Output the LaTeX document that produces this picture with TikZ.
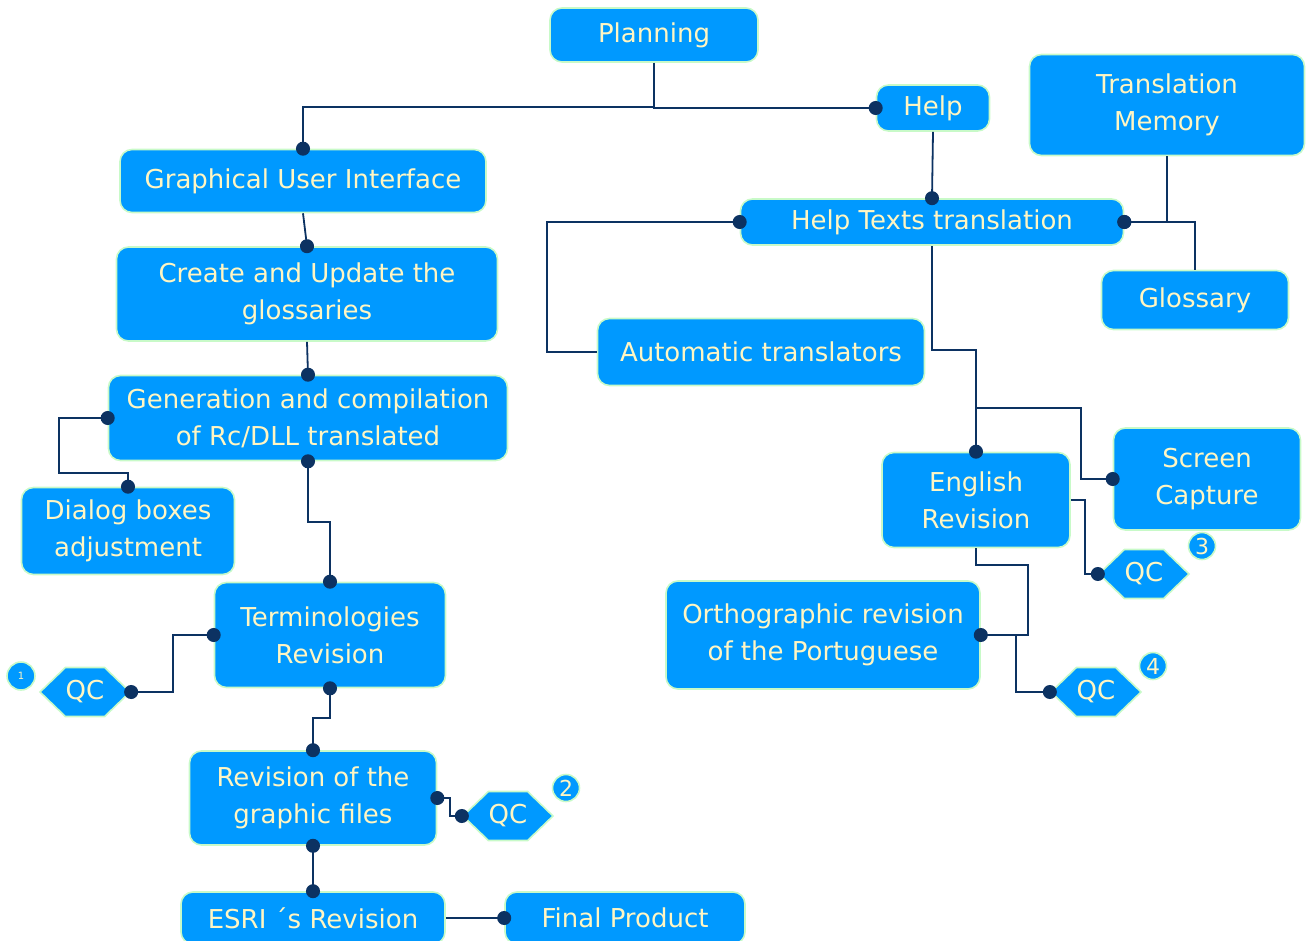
\documentclass[tikz,border=0pt]{standalone}
\usepackage{fontspec}
\setmainfont{DejaVu Sans}
\usetikzlibrary{shapes.symbols, arrows.meta, calc}
\definecolor{stepblue}{RGB}{0,153,255}
\definecolor{rimgreen}{RGB}{200,250,200}
\definecolor{labelcream}{RGB}{255,246,195}
\definecolor{linknavy}{RGB}{12,50,98}

\begin{document}
\begin{tikzpicture}[
  x=0.5pt, y=-0.5pt,
  box/.style={draw=rimgreen, fill=stepblue, line width=0.8pt, rounded corners=6pt, text=labelcream, align=center, inner sep=0pt, font=\fontsize{13}{18.5}\selectfont},
  qc/.style={shape=signal, signal to=east and west, signal pointer angle=88, draw=rimgreen, fill=stepblue, line width=0.8pt, text=labelcream, minimum width=45pt, minimum height=24.5pt, inner sep=0pt, font=\fontsize{13}{13}\selectfont},
  badge/.style={circle, draw=rimgreen, fill=stepblue, line width=0.8pt, text=labelcream, minimum size=13.5pt, inner sep=0pt, font=\fontsize{11}{11}\selectfont},
  link/.style={draw=linknavy, line width=0.9pt},
  pinend/.style={link, -{Circle[length=7pt]}, shorten >=-3.5pt},
  pinboth/.style={link, {Circle[length=7pt]}-{Circle[length=7pt]}, shorten >=-3.5pt, shorten <=-3.5pt},
]
  \useasboundingbox (0,0) rectangle (1311,941);

  \node[box, minimum width=104pt, minimum height=27pt] (plan) at (654,35) {Planning};
  \node[box, minimum width=56.5pt, minimum height=23pt] (help) at (933,108) {Help};
  \node[box, minimum width=137.5pt, minimum height=50.5pt] (tm) at (1167,105) {Translation\\Memory};
  \node[box, minimum width=183pt, minimum height=31.5pt] (gui) at (303,181) {Graphical User Interface};
  \node[box, minimum width=191.5pt, minimum height=23pt] (ht) at (932,222) {Help Texts translation};
  \node[box, minimum width=93.5pt, minimum height=29.5pt] (gl) at (1195,300) {Glossary};
  \node[box, minimum width=190.5pt, minimum height=47pt] (cre) at (307,294) {Create and Update the\\glossaries};
  \node[box, minimum width=163.5pt, minimum height=33.5pt] (auto) at (761,352) {Automatic translators};
  \node[box, minimum width=199.5pt, minimum height=42.5pt] (gen) at (308,418) {Generation and compilation\\of Rc/DLL translated};
  \node[box, minimum width=106.5pt, minimum height=43.5pt] (dlg) at (128,531) {Dialog boxes\\adjustment};
  \node[box, minimum width=94pt, minimum height=47.5pt] (eng) at (976,500) {English\\Revision};
  \node[box, minimum width=93.5pt, minimum height=51pt] (scr) at (1207,479) {Screen\\Capture};
  \node[box, minimum width=115.5pt, minimum height=52.5pt] (term) at (330,635) {Terminologies\\Revision};
  \node[box, minimum width=157pt, minimum height=54pt] (orth) at (823,635) {Orthographic revision\\of the Portuguese};
  \node[box, minimum width=123.5pt, minimum height=47pt] (rev) at (313,798) {Revision of the\\graphic files};
  \node[box, minimum width=132pt, minimum height=26pt] (esri) at (313,918) {ESRI ´s Revision};
  \node[box, minimum width=120pt, minimum height=26pt] (fin) at (625,918) {Final Product};

  \node[qc] (qc1) at (85,692) {QC};
  \node[qc] (qc2) at (508,816) {QC};
  \node[qc] (qc3) at (1144,574) {QC};
  \node[qc] (qc4) at (1096,692) {QC};
  \node[badge, minimum size=14pt, font=\fontsize{5}{5}\selectfont] (b1) at (21,676) {1};
  \node[badge] (b2) at (566,788) {2};
  \node[badge] (b3) at (1202,546) {3};
  \node[badge] (b4) at (1153,666) {4};

  \draw[pinend] (plan.south) -- ++(0,44) -| (gui.north);
  \draw[pinend] (plan.south) |- (help.west);
  \draw[pinend] (help.south) -- (ht.north);
  \draw[pinend] (auto.west) -- ++(-50,0) |- (ht.west);
  \draw[pinend] (tm.south) |- (ht.east);
  \draw[pinend] (gl.north) |- (ht.east);
  \draw[pinend] (ht.south) -- ++(0,104) -| (eng.north);
  \draw[pinend] ($(eng.north)+(0,-44)$) -- ++(105,0) |- (scr.west);
  \draw[pinend] (eng.east) -- ++(14,0) |- (qc3.west);
  \draw[pinend] (eng.south) -- ++(0,17) -- ++(52,0) |- (orth.east);
  \draw[pinend] ($(orth.east)+(35,0)$) |- (qc4.west);

  \draw[pinend] (gui.south) -- (cre.north);
  \draw[pinend] (cre.south) -- (gen.north);
  \draw[pinboth] (gen.west) -- ++(-49,0) -- ++(0,55) -| (dlg.north);
  \draw[pinboth] (gen.south) -- ++(0,61) -| (term.north);
  \draw[pinboth] (term.west) -- ++(-41,0) |- (qc1.east);
  \draw[pinboth] (term.south) -- ++(0,30) -| (rev.north);
  \draw[pinboth] (rev.east) -- ++(13,0) |- (qc2.west);
  \draw[pinboth] (rev.south) -- (esri.north);
  \draw[pinend] (esri.east) -- (fin.west);
\end{tikzpicture}
\end{document}
